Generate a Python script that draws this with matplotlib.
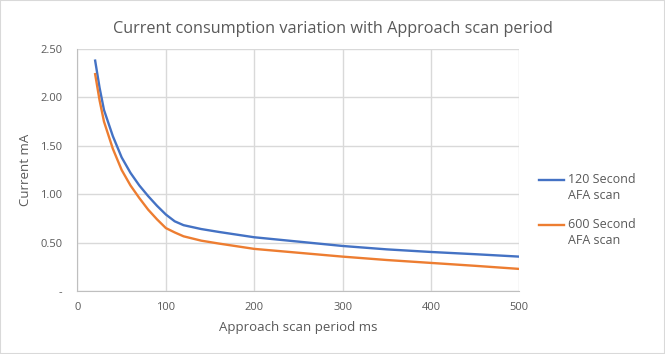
import matplotlib
matplotlib.use("Agg")
import matplotlib.pyplot as plt
from matplotlib.patches import Rectangle
from matplotlib.lines import Line2D
from matplotlib.legend_handler import HandlerLine2D

period_ms = [20, 25, 30, 40, 50, 60, 70, 80, 90, 100, 110, 120, 140, 160, 200, 250, 300, 350, 400, 450, 500]
afa_120 = [2.38, 2.10, 1.87, 1.60, 1.38, 1.22, 1.09, 0.98, 0.88, 0.79, 0.72, 0.68, 0.64, 0.61, 0.555, 0.51, 0.465, 0.43, 0.403, 0.38, 0.355]
afa_600 = [2.24, 1.97, 1.75, 1.47, 1.25, 1.09, 0.96, 0.84, 0.74, 0.65, 0.605, 0.565, 0.52, 0.49, 0.435, 0.395, 0.355, 0.32, 0.29, 0.26, 0.228]
series_names = ["120 Second\nAFA scan", "600 Second\nAFA scan"]
y_ticks = [0, 0.5, 1.0, 1.5, 2.0, 2.5]
y_tick_labels = ["-", "0.50", "1.00", "1.50", "2.00", "2.50"]
x_ticks = [0, 100, 200, 300, 400, 500]


class UpperHandler(HandlerLine2D):
    def create_artists(self, legend, orig_handle, xdescent, ydescent, width,
                       height, fontsize, trans):
        arts = super().create_artists(legend, orig_handle, xdescent, ydescent,
                                      width, height, fontsize, trans)
        for a in arts:
            if isinstance(a, Line2D):
                a.set_ydata([v + fontsize * 0.62 for v in a.get_ydata()])
        return arts


plt.rcParams['font.family'] = ['Open Sans', 'DejaVu Sans']
gray = "#595959"
fig = plt.figure(figsize=(6.65, 3.54), dpi=100)
fig.patches.append(Rectangle((0, 0), 1, 1, transform=fig.transFigure, fill=False,
                             edgecolor="#d9d9d9", linewidth=1.5))
ax = fig.add_axes([0.1165, 0.178, 0.781 - 0.1165, 0.8616 - 0.178])
l1, = ax.plot(period_ms, afa_120, color="#4472C4", lw=1.7, label=series_names[0])
l2, = ax.plot(period_ms, afa_600, color="#ED7D31", lw=1.7, label=series_names[1])
ax.set_xlim(0, 500)
ax.set_ylim(0, 2.5)
ax.set_xticks(x_ticks)
ax.set_yticks(y_ticks)
ax.set_yticklabels(y_tick_labels)
ax.grid(True, color="#d9d9d9", lw=1)
ax.set_axisbelow(True)
for s in ["top", "right"]:
    ax.spines[s].set_visible(False)
for s in ["left", "bottom"]:
    ax.spines[s].set_color("#bfbfbf")
ax.tick_params(length=0, colors=gray, labelsize=8)
ax.tick_params(axis="x", pad=8)
ax.tick_params(axis="y", pad=11)
ax.set_xlabel("Approach scan period ms", color=gray, fontsize=9.5, labelpad=6)
ax.set_ylabel("Current mA", color=gray, fontsize=9.5, labelpad=6)
fig.suptitle("Current consumption variation with Approach scan period", color=gray,
             fontsize=11.7, y=0.94)
leg = ax.legend(loc="center left", bbox_to_anchor=(1.02, 0.335), frameon=False,
                fontsize=9, handlelength=2.0, labelspacing=1.3, handletextpad=0.3,
                handler_map={Line2D: UpperHandler()})
for t in leg.get_texts():
    t.set_color(gray)
    t.set_linespacing(1.3)
fig.savefig("out.png", dpi=100)
